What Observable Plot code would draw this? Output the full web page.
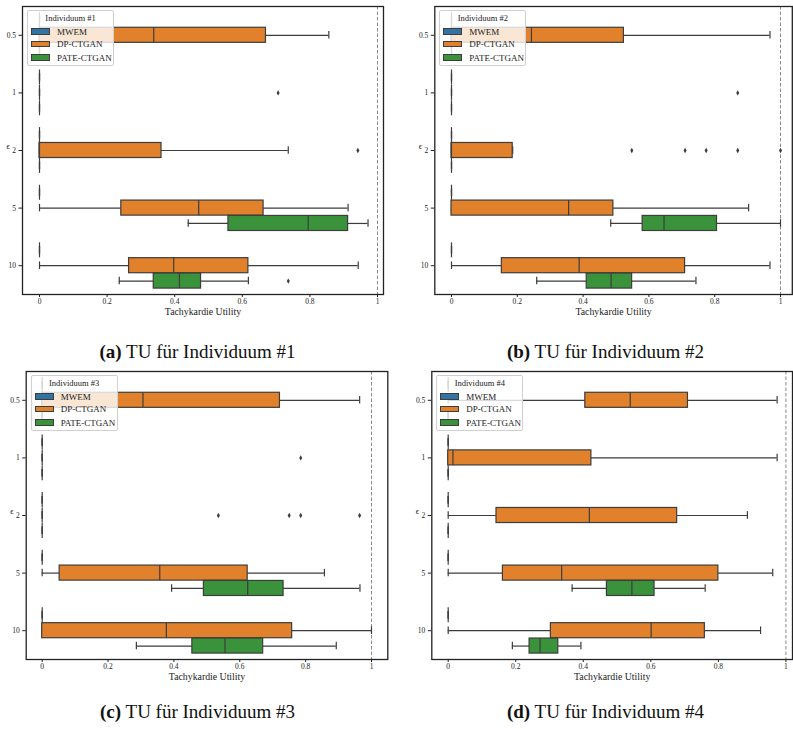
<!DOCTYPE html>
<html>
<head>
<meta charset="utf-8">
<script src="https://cdn.jsdelivr.net/npm/d3@7"></script>
<script src="https://cdn.jsdelivr.net/npm/@observablehq/plot@0.6"></script>
<style>
  html, body { margin: 0; padding: 0; background: #fff; }
  #root { position: relative; width: 793px; height: 729px; overflow: hidden; font-family: "Liberation Serif", "DejaVu Serif", serif; }
  .panel { position: absolute; }
  .legend { position: absolute; width: 87px; height: 56px; background: rgba(255,255,255,0.8); border: 1px solid #d0d0d0; border-radius: 2px; box-sizing: border-box; font-family: "Liberation Serif", serif; color: #222; }
  .legend .title { position: absolute; left: 0; right: 0; top: 2px; text-align: center; font-size: 8.5px; line-height: 11px; }
  .legend .row { position: absolute; left: 3px; height: 11px; font-size: 9px; line-height: 11px; white-space: nowrap; }
  .legend .sw { display: inline-block; width: 19px; height: 6.5px; border: 1px solid #3d3d3d; box-sizing: border-box; vertical-align: middle; margin-right: 7px; position: relative; top: -1px; }
  .caption { position: absolute; width: 395px; text-align: center; font-size: 19px; line-height: 22px; color: #111; font-family: "Liberation Serif", serif; }
</style>
</head>
<body>
<div id="root"></div>
<script>
const epsLabels = ["0.5", "1", "2", "5", "10"];
const methods = ["MWEM", "DP-CTGAN", "PATE-CTGAN"];
const methodColors = ["#3274a1", "#e1812c", "#3a923a"];
const xTickValues = [0, 0.2, 0.4, 0.6, 0.8, 1];
const xTickLabels = ["0", "0.2", "0.4", "0.6", "0.8", "1"];
const xTitle = "Tachykardie Utility";
const yTitle = "ϵ";
const panelLetters = ["a", "b", "c", "d"];
const individuals = ["Individuum #1", "Individuum #2", "Individuum #3", "Individuum #4"];

// columns: epsilon, method, whisker low, q1, median, q3, whisker high
const boxesInd1 = [
  ["0.5", "MWEM", 0, 0, 0, 0, 0],
  ["0.5", "DP-CTGAN", 0, 0, 0.338, 0.670, 0.856],
  ["0.5", "PATE-CTGAN", 0, 0, 0, 0, 0],
  ["1", "MWEM", 0, 0, 0, 0, 0],
  ["1", "DP-CTGAN", 0, 0, 0, 0, 0],
  ["1", "PATE-CTGAN", 0, 0, 0, 0, 0],
  ["2", "MWEM", 0, 0, 0, 0, 0],
  ["2", "DP-CTGAN", 0, 0, 0, 0.361, 0.736],
  ["2", "PATE-CTGAN", 0, 0, 0, 0, 0],
  ["5", "MWEM", 0, 0, 0, 0, 0],
  ["5", "DP-CTGAN", 0, 0.242, 0.471, 0.663, 0.913],
  ["5", "PATE-CTGAN", 0.440, 0.559, 0.795, 0.913, 0.972],
  ["10", "MWEM", 0, 0, 0, 0, 0],
  ["10", "DP-CTGAN", 0, 0.265, 0.397, 0.618, 0.943],
  ["10", "PATE-CTGAN", 0.236, 0.338, 0.414, 0.478, 0.618]
];
const outliersInd1 = [["1", "DP-CTGAN", 0.706], ["2", "DP-CTGAN", 0.942], ["10", "PATE-CTGAN", 0.736]];

const boxesInd2 = [
  ["0.5", "MWEM", 0, 0, 0, 0, 0],
  ["0.5", "DP-CTGAN", 0, 0, 0.243, 0.524, 0.968],
  ["0.5", "PATE-CTGAN", 0, 0, 0, 0, 0],
  ["1", "MWEM", 0, 0, 0, 0, 0],
  ["1", "DP-CTGAN", 0, 0, 0, 0, 0],
  ["1", "PATE-CTGAN", 0, 0, 0, 0, 0],
  ["2", "MWEM", 0, 0, 0, 0, 0],
  ["2", "DP-CTGAN", 0, 0, 0, 0.186, 0.186],
  ["2", "PATE-CTGAN", 0, 0, 0, 0, 0],
  ["5", "MWEM", 0, 0, 0, 0, 0],
  ["5", "DP-CTGAN", 0, 0, 0.356, 0.492, 0.903],
  ["5", "PATE-CTGAN", 0.484, 0.581, 0.646, 0.807, 1.0],
  ["10", "MWEM", 0, 0, 0, 0, 0],
  ["10", "DP-CTGAN", 0, 0.153, 0.388, 0.710, 0.968],
  ["10", "PATE-CTGAN", 0.259, 0.411, 0.485, 0.549, 0.743]
];
const outliersInd2 = [["1", "DP-CTGAN", 0.870], ["2", "DP-CTGAN", 0.548], ["2", "DP-CTGAN", 0.710], ["2", "DP-CTGAN", 0.774], ["2", "DP-CTGAN", 0.870], ["2", "DP-CTGAN", 1.0]];

const boxesInd3 = [
  ["0.5", "MWEM", 0, 0, 0, 0, 0],
  ["0.5", "DP-CTGAN", 0, 0, 0.306, 0.722, 0.964],
  ["0.5", "PATE-CTGAN", 0, 0, 0, 0, 0],
  ["1", "MWEM", 0, 0, 0, 0, 0],
  ["1", "DP-CTGAN", 0, 0, 0, 0, 0],
  ["1", "PATE-CTGAN", 0, 0, 0, 0, 0],
  ["2", "MWEM", 0, 0, 0, 0, 0],
  ["2", "DP-CTGAN", 0, 0, 0, 0, 0],
  ["2", "PATE-CTGAN", 0, 0, 0, 0, 0],
  ["5", "MWEM", 0, 0, 0, 0, 0],
  ["5", "DP-CTGAN", 0, 0.053, 0.357, 0.624, 0.857],
  ["5", "PATE-CTGAN", 0.393, 0.491, 0.624, 0.733, 0.965],
  ["10", "MWEM", 0, 0, 0, 0, 0],
  ["10", "DP-CTGAN", 0, 0, 0.377, 0.759, 1.0],
  ["10", "PATE-CTGAN", 0.286, 0.456, 0.555, 0.671, 0.893]
];
const outliersInd3 = [["1", "DP-CTGAN", 0.785], ["2", "DP-CTGAN", 0.535], ["2", "DP-CTGAN", 0.750], ["2", "DP-CTGAN", 0.785], ["2", "DP-CTGAN", 0.964]];

const boxesInd4 = [
  ["0.5", "MWEM", 0, 0, 0, 0, 0],
  ["0.5", "DP-CTGAN", 0, 0.406, 0.539, 0.710, 0.974],
  ["0.5", "PATE-CTGAN", 0, 0, 0, 0, 0],
  ["1", "MWEM", 0, 0, 0, 0, 0],
  ["1", "DP-CTGAN", 0, 0, 0.014, 0.424, 0.974],
  ["1", "PATE-CTGAN", 0, 0, 0, 0, 0],
  ["2", "MWEM", 0, 0, 0, 0, 0],
  ["2", "DP-CTGAN", 0, 0.143, 0.418, 0.678, 0.886],
  ["2", "PATE-CTGAN", 0, 0, 0, 0, 0],
  ["5", "MWEM", 0, 0, 0, 0, 0],
  ["5", "DP-CTGAN", 0, 0.162, 0.336, 0.800, 0.961],
  ["5", "PATE-CTGAN", 0.367, 0.470, 0.544, 0.611, 0.761],
  ["10", "MWEM", 0, 0, 0, 0, 0],
  ["10", "DP-CTGAN", 0, 0.304, 0.601, 0.760, 0.925],
  ["10", "PATE-CTGAN", 0.190, 0.241, 0.272, 0.326, 0.393]
];
const outliersInd4 = [];

const allBoxes = [boxesInd1, boxesInd2, boxesInd3, boxesInd4];
const allOutliers = [outliersInd1, outliersInd2, outliersInd3, outliersInd4];

// layout of the four panels (pixels); x0 = page x of value 0, s = pixels per unit
const layouts = [
  {left: 0,   top: 0,   width: 395, mL: 22,   mR: 12,  x0: 39,    s: 338},
  {left: 395, top: 0,   width: 398, mL: 39.3, mR: 1.2, x0: 451,   s: 329},
  {left: 0,   top: 365, width: 395, mL: 25.7, mR: 7.7, x0: 41.7,  s: 329.3},
  {left: 395, top: 365, width: 398, mL: 36.3, mR: 1.0, x0: 447.7, s: 337.7}
];
const captionTops = [341, 341, 701, 701];

const gray = "#3d3d3d";
const groupWidth = 0.8;
const hueW = groupWidth / methods.length;
const boxHalf = hueW * 0.98 / 2;
const capHalf = boxHalf / 2;
const pos = (eps, m) => epsLabels.indexOf(eps) + (methods.indexOf(m) - 1) * hueW;

const root = document.getElementById("root");

layouts.forEach((L, k) => {
  const H = 330, mT = 6, mB = 36;
  const frameL = L.left + L.mL, frameR = L.left + L.width - L.mR;
  const domain = [(frameL - L.x0) / L.s, (frameR - L.x0) / L.s];
  const boxes = allBoxes[k];
  const outs = allOutliers[k];
  const yc = d => pos(d[0], d[1]);
  const chart = Plot.plot({
    width: L.width,
    height: H,
    marginLeft: L.mL,
    marginRight: L.mR,
    marginTop: mT,
    marginBottom: mB,
    style: {fontFamily: "Liberation Serif, serif", fontSize: "7.5px", color: "#222", background: "transparent"},
    x: {domain, ticks: xTickValues, tickFormat: v => xTickLabels[xTickValues.indexOf(v)], tickSize: 3, tickPadding: 1.5, label: null},
    y: {domain: [-0.5, epsLabels.length - 0.5], reverse: true, ticks: d3.range(epsLabels.length), tickFormat: i => epsLabels[i], tickSize: 3.5, tickPadding: 3, label: null},
    color: {domain: methods, range: methodColors},
    marks: [
      Plot.ruleX([1], {stroke: "#8a8a8a", strokeWidth: 1, strokeDasharray: "3.5,2"}),
      Plot.ruleY(boxes, {y: yc, x1: d => d[2], x2: d => d[3], stroke: gray, strokeWidth: 1.2}),
      Plot.ruleY(boxes, {y: yc, x1: d => d[5], x2: d => d[6], stroke: gray, strokeWidth: 1.2}),
      Plot.ruleX(boxes, {x: d => d[2], y1: d => yc(d) - capHalf, y2: d => yc(d) + capHalf, stroke: gray, strokeWidth: 1.2}),
      Plot.ruleX(boxes, {x: d => d[6], y1: d => yc(d) - capHalf, y2: d => yc(d) + capHalf, stroke: gray, strokeWidth: 1.2}),
      Plot.rect(boxes.filter(d => d[5] > d[3]), {x1: d => d[3], x2: d => d[5], y1: d => yc(d) - boxHalf, y2: d => yc(d) + boxHalf, fill: d => d[1], stroke: gray, strokeWidth: 1.2}),
      Plot.ruleX(boxes, {x: d => d[4], y1: d => yc(d) - boxHalf, y2: d => yc(d) + boxHalf, stroke: gray, strokeWidth: 1.2}),
      Plot.dot(outs, {x: d => d[2], y: d => pos(d[0], d[1]), symbol: "diamond", r: 1.6, fill: gray, stroke: "none"}),
      Plot.text([xTitle], {frameAnchor: "bottom", dy: 20.5, fontSize: 9.8, fill: "#222"}),
      Plot.text([yTitle], {frameAnchor: "left", dx: -16, dy: -4, fontSize: 8, fill: "#222"}),
      Plot.frame({stroke: "#222", strokeWidth: 1.3})
    ]
  });
  const div = document.createElement("div");
  div.className = "panel";
  div.style.left = L.left + "px";
  div.style.top = L.top + "px";
  div.appendChild(chart);
  root.appendChild(div);

  // legend (inside the axes, upper left, like the reference)
  const lg = document.createElement("div");
  lg.className = "legend";
  lg.style.left = (frameL + 5) + "px";
  lg.style.top = (L.top + mT + 4) + "px";
  const t = document.createElement("div");
  t.className = "title";
  t.textContent = individuals[k];
  lg.appendChild(t);
  methods.forEach((m, i) => {
    const r = document.createElement("div");
    r.className = "row";
    r.style.top = [15.5, 28, 41.5][i] + "px";
    const sw = document.createElement("span");
    sw.className = "sw";
    sw.style.background = methodColors[i];
    r.appendChild(sw);
    r.appendChild(document.createTextNode(m));
    lg.appendChild(r);
  });
  root.appendChild(lg);

  // caption
  const cap = document.createElement("div");
  cap.className = "caption";
  cap.style.left = (k % 2 === 0 ? 0 : 408) + "px";
  cap.style.top = captionTops[k] + "px";
  const b = document.createElement("b");
  b.textContent = "(" + panelLetters[k] + ")";
  cap.appendChild(b);
  cap.appendChild(document.createTextNode(" TU für " + individuals[k]));
  root.appendChild(cap);
});
</script>
</body>
</html>
